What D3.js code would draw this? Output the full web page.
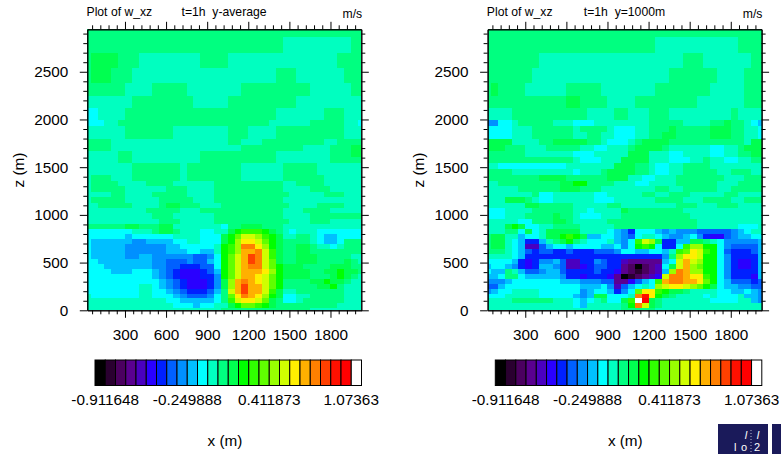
<!DOCTYPE html>
<html>
<head>
<meta charset="utf-8">
<script src="https://cdn.jsdelivr.net/npm/d3@7"></script>
<style>
  body { margin: 0; background: #fff; }
  text { font-family: "Liberation Sans", sans-serif; white-space: pre; }
</style>
</head>
<body>
<script>
// colour levels of the label bar, one letter per box
const levelKeys = "abcdefghijklmnopqrstuvwxyz".split("");
const levelColors = ["#000000","#2a0030","#4b0060","#5a0090","#4a00c0","#2a00ff","#0020ff","#0060ff",
  "#0090ff","#00c0ff","#00ffff","#00ffc0","#00ff80","#00ff50","#00ff00","#30ff00","#60ff00","#98ff00",
  "#d0ff00","#ffef00","#ffb000","#ff8000","#ff4000","#ff1000","#ff0000","#ffffff"];
const colorTickLabels = ["-0.911648","-0.249888","0.411873","1.07363"];
const colorTickBoxes = [1, 9, 17, 25];

// model levels in metres, bottom to top (edges of the cells)
const zEdges = [0,21,73,124,175,226,277,328,379,431,482,534,586,638,691,744,797,851,905,960,1015,1071,
  1127,1184,1241,1299,1358,1418,1479,1541,1604,1668,1733,1799,1866,1934,1995,2055,2117,2180,2245,2310,
  2379,2457,2536,2615,2694,2781,2868,2945];
// cell edges along x, half cells at both ends
const xEdges = [25,50,100,150,200,250,300,350,400,450,500,550,600,650,700,750,800,850,900,950,1000,1050,
  1100,1150,1200,1250,1300,1350,1400,1450,1500,1550,1600,1650,1700,1750,1800,1850,1900,1950,2000,2025];

const xTicks = [300,600,900,1200,1500,1800];
const xMinor = [60,120,180,240,360,420,480,540,660,720,780,840,960,1020,1080,1140,1260,1320,1380,1440,
  1560,1620,1680,1740,1860,1920,1980];
const zTicks = [0,500,1000,1500,2000,2500];
const zMinor = [100,200,300,400,600,700,800,900,1100,1200,1300,1400,1600,1700,1800,1900,2100,2200,2300,
  2400,2600,2700,2800,2900];

// level letter per cell, top row first, run length coded (k7 = seven cells of k)
const rowsAverage = [
  "m41",
  "m29 l10 m2",
  "m29 l10 m2",
  "m n4 m3 l9 m4 l16 m4",
  "m n4 m3 l9 m4 l16 m4",
  "m n3 m3 l21 m3 l7 m3",
  "m n3 m3 l21 m3 l7 m3",
  "m6 l4 m5 l8 m10 l6 m2",
  "m6 l4 m5 l8 m10 l6 m2",
  "l7 m9 l5 m10 l10",
  "l7 m9 l5 m10 l10",
  "k2 l4 m22 l7 m3 l3",
  "k2 l4 m22 l7 m3 l3",
  "k3 l2 m22 l6 m5 l2 k",
  "l6 m7 l8 m3 l4 m10 l3",
  "l6 m7 l8 m3 l4 m10 l3",
  "m4 l17 m2 l3 m9 l2 m4",
  "m4 l19 m9 l4 m3 n2",
  "l5 m2 l10 m11 l8 m3 n2",
  "l5 m2 l10 m11 l8 m5",
  "l7 m7 l m8 l6 m5 l7",
  "l7 m7 l m8 l6 m5 l7",
  "l m3 l3 m7 l m8 l6 m6 l6",
  "l m4 l4 m4 l6 m10 l2 m4 l6",
  "l m5 l6 m3 l4 m10 l4 m3 l5",
  "l4 m2 l4 m5 l4 m11 l5 m3 l3",
  "l m5 l5 m5 l3 m10 l12",
  "l2 m5 l4 m n2 m3 l3 m10 l4 m4 l3",
  "l9 m5 l3 m12 l3 m4 l5",
  "l10 m3 l6 m10 l4 m8",
  "l11 m3 l5 m11 l3 m3 l5",
  "m6 n2 m3 n2 l6 l k m2 n3 m3 l5 l7",
  "k7 l3 m n2 m l3 k2 l l n o p3 o n m l k l3 k7",
  "k6 j k6 l4 k2 k n o q s2 r p o n l2 m2 l k j2 k4",
  "k j6 i2 j4 k2 l2 k2 k n o r t2 s q o n m3 m l k j2 k m3",
  "k j5 i6 j2 k5 l o p r v2 t r o n m2 n2 m l2 k l m3",
  "k j5 i6 j3 k2 j2 l o p r u2 v s p n m2 n2 m8",
  "k j5 i2 j2 i6 h2 i k o q s u w v s p n m2 n3 m5 l2",
  "k2 j8 i2 h3 i h2 j k o q s u w v s q n m2 n3 m4 n m l",
  "k3 j7 i2 h2 g3 h2 k o q s u v2 s q o n3 m4 n3 m2",
  "k4 j3 k3 j i h g f3 g h j o q s u3 t r o n4 m2 n2 o n2 m",
  "k10 j i h g f3 g2 i o q s u2 t s q o n4 m3 n o n m l",
  "k11 j i h g f3 g i n r u v u t s q o m4 n2 o n2 m l2",
  "k8 l2 k j i h g f3 g i n r u w u2 s q o m5 n2 o m l3",
  "k8 l2 k2 j i h g3 h j m s u w u2 s p n l2 m7 l3",
  "l k7 l2 k3 j i h3 i k m q t v u t r o n k2 l2 m5 l3",
  "l12 k2 j5 k m p s t2 s q n m k2 l m6 l3",
  "l13 k3 j k2 l l n o q2 p o n m m8 l4",
  "l20 m13 l8"
];
const rowsSlice = [
  "m41",
  "m25 l12 m4",
  "m25 l12 m4",
  "m8 l21 m3 l7 m2",
  "m8 l21 m3 l7 m2",
  "m7 l20 m7 l4 m3",
  "m7 l20 m7 l4 m3",
  "m n m4 l6 m5 l8 m8 l5 m3",
  "m n m4 l6 m5 l8 m8 l5 m3",
  "m12 n2 m4 l4 m9 l7 m3",
  "m12 n2 m4 l4 m9 l7 m3",
  "l4 m11 l4 m2 l3 m3 l9 m l4",
  "l4 m11 l4 m2 l3 m3 l9 m l4",
  "i2 k2 l m5 l3 k3 l8 m5 l4 m2 n m2 l k j",
  "k4 l3 m6 l m4 l k3 l2 m3 n m5 n3 m2 l2 k",
  "k4 l3 m6 l2 m2 l2 k3 l2 m2 n2 m5 n3 m2 l2 k",
  "n4 l4 m2 n5 m2 l k3 l m n4 m11 l n2",
  "n3 m3 l3 m5 l2 k2 l3 m n4 m l6 k2 l2 m n3",
  "m6 l7 k3 l5 n3 l3 k2 l4 k2 l2 m2 n2",
  "m13 l k3 l3 n4 l3 k3 l2 m l2 k2 l2 m2",
  "l2 k10 l7 n3 m2 l k2 l2 m4 l8",
  "m4 l9 k l3 m n4 m2 l k2 l2 m5 l2 m3 l2",
  "m8 n4 m6 n3 l2 k2 l3 m7 l3 m3",
  "l2 m9 n2 o2 m4 l3 k2 l4 m6 l3 m4",
  "l5 m6 n3 m3 l8 m2 l2 m5 l2 m5",
  "l7 m k2 l6 k2 l5 m2 l2 m3 l5 m2 l4",
  "l3 n3 m l k2 l6 k3 l6 m4 l3 m4 l2 m3",
  "l6 n2 m5 l5 m2 l8 m3 l3 m3 l4",
  "k3 l4 m6 l2 k l4 n m8 l12",
  "k3 l3 m4 n m2 l k3 l3 m10 l11",
  "l5 k2 m3 n2 m l5 m13 l10",
  "l3 n o n k2 l2 m4 l5 m12 l6 k3 l",
  "l3 m2 k n k l n5 l4 k j i g k3 j i j i3 h5 i j k l2",
  "m n2 l2 j k2 l n2 o p o n j2 k2 j i h k l2 k j i2 j k i g f2 h i j2 k2",
  "m n2 l k j g2 j l m n o m l k3 l j i k p s r n g2 j2 n2 m l k i5 j",
  "m n2 l k j e2 h j k2 j k4 j2 k i k o p o k g2 k p r2 o2 k i h4 j",
  "m3 l k j h g h2 g2 h g3 h3 i k2 j2 k2 j l p q t s p o k h g3 h j",
  "l4 k j g14 g6 i m r t2 s o2 k i g4 j",
  "k4 j g f g i2 j h e2 g2 i h g2 e d5 j k s u s r o2 k i g f2 g j",
  "j k2 j i g f g j2 i h e2 f g h2 g2 d c a c d e k n s u r q o2 k i g f2 g j",
  "k j2 m l j h2 i j2 h g4 h g2 f d c b c d e j r v u r2 o2 k i g4 j",
  "j2 k m2 k j5 i g2 f g3 f d a b c d e f s v2 u t2 p o k i g3 f j",
  "i3 j k7 j3 i3 h2 d d f h j k p u v2 u2 t q o k j h3 g h",
  "h2 j k11 j3 k i e h j k l k r s t2 s r q o n k j2 i2 h2",
  "i j k2 l4 k6 i j k2 j g i k q t2 p o n2 m l4 k2 j2 k j i",
  "k3 l5 k5 j i j n2 k2 k l v x t o n m l4 k l k3 l j2 i",
  "l4 m6 l3 k j k l m k2 n p z y n m l7 k4 l2 j i",
  "l13 k j l5 m o v s n m l15",
  "l20 m5 l16"
];

const width = 781;
const height = 454;
const plot = { left: 87.3, right: 361.3, top: 29.3, bottom: 310.3 };
const fontSize = 15.3;

const svg = d3.select("body").append("svg")
    .attr("width", width)
    .attr("height", height);

const x = d3.scaleLinear().domain([25, 2025]).range([plot.left, plot.right]);
const y = d3.scaleLinear().domain([0, 2945]).range([plot.bottom, plot.top]);
const color = d3.scaleOrdinal(levelKeys, levelColors);
const barX = d3.scaleBand().domain(levelKeys).range([95, 361.5]);

// "k7 l3" -> array of single letters
function decodeRow(row) {
  const cells = [];
  for (const m of row.matchAll(/([a-z])(\d*)/g)) {
    const n = m[2] ? +m[2] : 1;
    for (let i = 0; i < n; i++) cells.push(m[1]);
  }
  return cells;
}

function drawPanel(dx, rows, midTitle, midX) {
  const g = svg.append("g").attr("transform", `translate(${dx},0)`);

  rows.forEach((row, r) => {
    const top = zEdges[zEdges.length - 1 - r];
    const bottom = zEdges[zEdges.length - 2 - r];
    g.append("g").selectAll("rect")
      .data(decodeRow(row))
      .enter().append("rect")
      .attr("x", (d, i) => x(xEdges[i]))
      .attr("width", (d, i) => x(xEdges[i + 1]) - x(xEdges[i]))
      .attr("y", y(top))
      .attr("height", y(bottom) - y(top))
      .attr("fill", d => color(d))
      .attr("shape-rendering", "crispEdges");
  });

  // major and minor ticks on all four sides
  const addAxis = (axis, tx, ty, labelled) => {
    const a = g.append("g").attr("transform", `translate(${tx},${ty})`).call(axis);
    a.selectAll("line").attr("stroke", "#000");
    a.selectAll(".domain").attr("stroke", "#000");
    if (labelled) a.selectAll("text").attr("font-size", fontSize).attr("fill", "#000")
      .attr("font-family", "'Liberation Sans', sans-serif");
    else a.selectAll("text").remove();
  };
  const axes = [
    [d3.axisBottom(x), 0, plot.bottom, xTicks, xMinor, true],
    [d3.axisTop(x), 0, plot.top, xTicks, xMinor, false],
    [d3.axisLeft(y), plot.left, 0, zTicks, zMinor, true],
    [d3.axisRight(y), plot.right, 0, zTicks, zMinor, false]
  ];
  axes.forEach(([axis, tx, ty, major, minor, labelled]) => {
    addAxis(axis.tickValues(minor).tickSize(4).tickSizeOuter(0).tickFormat(""), tx, ty, false);
    addAxis(axis.tickValues(major).tickSize(7.5).tickSizeOuter(0).tickFormat(d3.format("d"))
      .tickPadding(labelled ? (ty ? 11 : 11.5) : 3), tx, ty, labelled);
  });

  // titles
  g.append("text").attr("x", 86.5).attr("y", 16).attr("font-size", 12.2).text("Plot of w_xz");
  g.append("text").attr("x", midX).attr("y", 16).attr("font-size", 12.2).text(midTitle);
  g.append("text").attr("x", 342.5).attr("y", 18).attr("font-size", 12.2).text("m/s");

  g.append("text")
    .attr("transform", "translate(24,170) rotate(-90)")
    .attr("text-anchor", "middle")
    .attr("font-size", fontSize)
    .text("z (m)");
  g.append("text")
    .attr("x", 225).attr("y", 446)
    .attr("text-anchor", "middle")
    .attr("font-size", fontSize)
    .text("x (m)");

  // label bar
  g.append("g").selectAll("rect")
    .data(levelKeys)
    .enter().append("rect")
    .attr("x", d => barX(d))
    .attr("y", 360)
    .attr("width", barX.bandwidth())
    .attr("height", 25.5)
    .attr("fill", d => color(d))
    .attr("stroke", "#000")
    .attr("stroke-width", 1);
  g.append("g").selectAll("text")
    .data(colorTickLabels)
    .enter().append("text")
    .attr("x", (d, i) => barX(levelKeys[colorTickBoxes[i]]))
    .attr("y", 404.5)
    .attr("text-anchor", "middle")
    .attr("font-size", fontSize)
    .text(d => d);
}

drawPanel(0, rowsAverage, "t=1h  y-average", 181.5);
drawPanel(400.3, rowsSlice, "t=1h  y=1000m", 183.5);

// logo in the lower right corner
const logo = svg.append("g");
logo.append("rect").attr("x", 718).attr("y", 424).attr("width", 50).attr("height", 30).attr("fill", "#1a1a5a");
logo.append("rect").attr("x", 772).attr("y", 424).attr("width", 9).attr("height", 30).attr("fill", "#1a1a5a");
logo.append("line").attr("x1", 751).attr("x2", 751).attr("y1", 430).attr("y2", 454)
  .attr("stroke", "#fff").attr("stroke-dasharray", "1,2").attr("stroke-width", 0.7);
logo.append("text").attr("x", 746).attr("y", 439).attr("font-size", 11).attr("font-style", "italic")
  .attr("fill", "#fff").attr("text-anchor", "middle").text("l");
logo.append("text").attr("x", 758).attr("y", 439).attr("font-size", 11).attr("font-style", "italic")
  .attr("fill", "#fff").attr("text-anchor", "middle").text("l");
logo.append("text").attr("x", 734).attr("y", 451).attr("font-size", 11).attr("fill", "#fff").text("l");
logo.append("text").attr("x", 741).attr("y", 451).attr("font-size", 11).attr("fill", "#fff").text("o");
logo.append("text").attr("x", 754).attr("y", 451).attr("font-size", 11).attr("fill", "#fff").text("2");
</script>
</body>
</html>
